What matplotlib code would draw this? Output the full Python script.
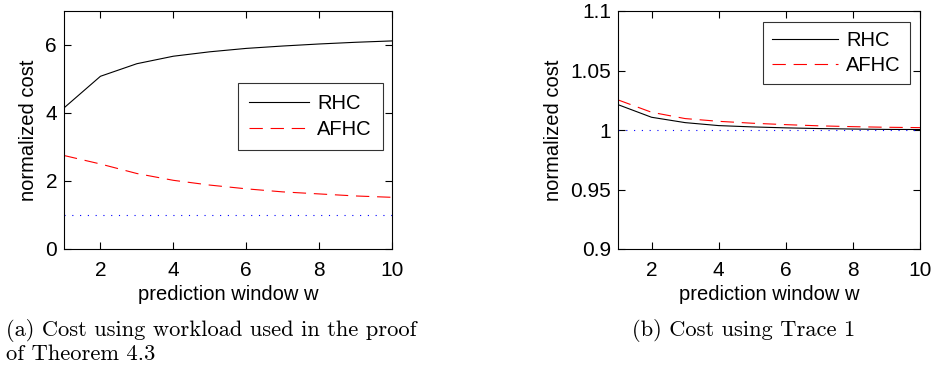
import matplotlib
matplotlib.use('Agg')
import matplotlib.pyplot as plt
import matplotlib.ticker as mticker

w = [1, 2, 3, 4, 5, 6, 7, 8, 9, 10]

# (a) workload from the proof of Theorem 4.3
rhc_a = [4.15, 5.08, 5.45, 5.67, 5.80, 5.90, 5.97, 6.03, 6.08, 6.12]
afhc_a = [2.75, 2.50, 2.22, 2.02, 1.88, 1.77, 1.68, 1.62, 1.56, 1.52]

# (b) Trace 1
rhc_b = [1.0213, 1.0107, 1.0062, 1.0037, 1.0026, 1.0018, 1.0012, 1.0008, 1.0005, 1.0004]
afhc_b = [1.0253, 1.0149, 1.0096, 1.0073, 1.0057, 1.0045, 1.0035, 1.0028, 1.0023, 1.0020]

baseline = [1.0] * len(w)

plt.rcParams['font.family'] = ['Liberation Sans', 'DejaVu Sans']
fs = 14.5
tfs = 15

fig = plt.figure(figsize=(9.34, 3.66), dpi=100)
ax1 = fig.add_axes([64 / 934, 1 - 249 / 366, 328 / 934, 238 / 366])
ax2 = fig.add_axes([618 / 934, 1 - 249 / 366, 302 / 934, 238 / 366])


def style(ax):
    ax.tick_params(direction='in', top=True, right=True, labelsize=tfs, length=5, width=0.8)
    ax.tick_params(axis='x', pad=9)
    ax.tick_params(axis='y', pad=5)
    for s in ax.spines.values():
        s.set_linewidth(0.8)
    ax.set_xlim(1, 10)
    ax.set_xticks([2, 4, 6, 8, 10])
    ax.set_xlabel('prediction window w', fontsize=fs, labelpad=3.5)
    ax.set_ylabel('normalized cost', fontsize=fs, labelpad=5)


leg_kw = dict(loc='upper right', fontsize=fs, frameon=True, fancybox=False,
              edgecolor='black', borderaxespad=0, handletextpad=0.4)

ax1.plot(w, rhc_a, color='black', lw=0.8, label='RHC')
ax1.plot(w, afhc_a, color='red', lw=0.8, linestyle=(0, (12, 7)), label='AFHC')
ax1.plot(w, baseline, color='blue', lw=0.8, linestyle=(0, (1, 6)))
style(ax1)
ax1.set_ylim(0, 7)
ax1.set_yticks([0, 2, 4, 6])
ax1.legend(bbox_to_anchor=(0.973, 0.697), borderpad=0.55, labelspacing=0.35,
           handlelength=3.0, **leg_kw).get_frame().set_linewidth(0.8)

ax2.plot(w, rhc_b, color='black', lw=0.8, label='RHC')
ax2.plot(w, afhc_b, color='red', lw=0.8, linestyle=(0, (12, 7)), label='AFHC')
ax2.plot(w, baseline, color='blue', lw=0.8, linestyle=(0, (1, 6)))
style(ax2)
ax2.set_ylim(0.9, 1.1)
ax2.set_yticks([0.9, 0.95, 1.0, 1.05, 1.1])
ax2.yaxis.set_major_formatter(mticker.FuncFormatter(lambda v, p: f'{v:g}'))
ax2.legend(bbox_to_anchor=(0.967, 0.954), borderpad=0.45, labelspacing=0.3,
           handlelength=3.3, **leg_kw).get_frame().set_linewidth(0.8)

cap = dict(fontsize=16.2, family='cmr10', va='center', ha='left')
fig.text(6 / 934, 1 - 330 / 366, '(a) Cost using workload used in the proof', **cap)
fig.text(6 / 934, 1 - 354 / 366, 'of Theorem 4.3', **cap)
fig.text(632 / 934, 1 - 330 / 366, '(b) Cost using Trace 1', **cap)

fig.savefig('out.png', dpi=100)
